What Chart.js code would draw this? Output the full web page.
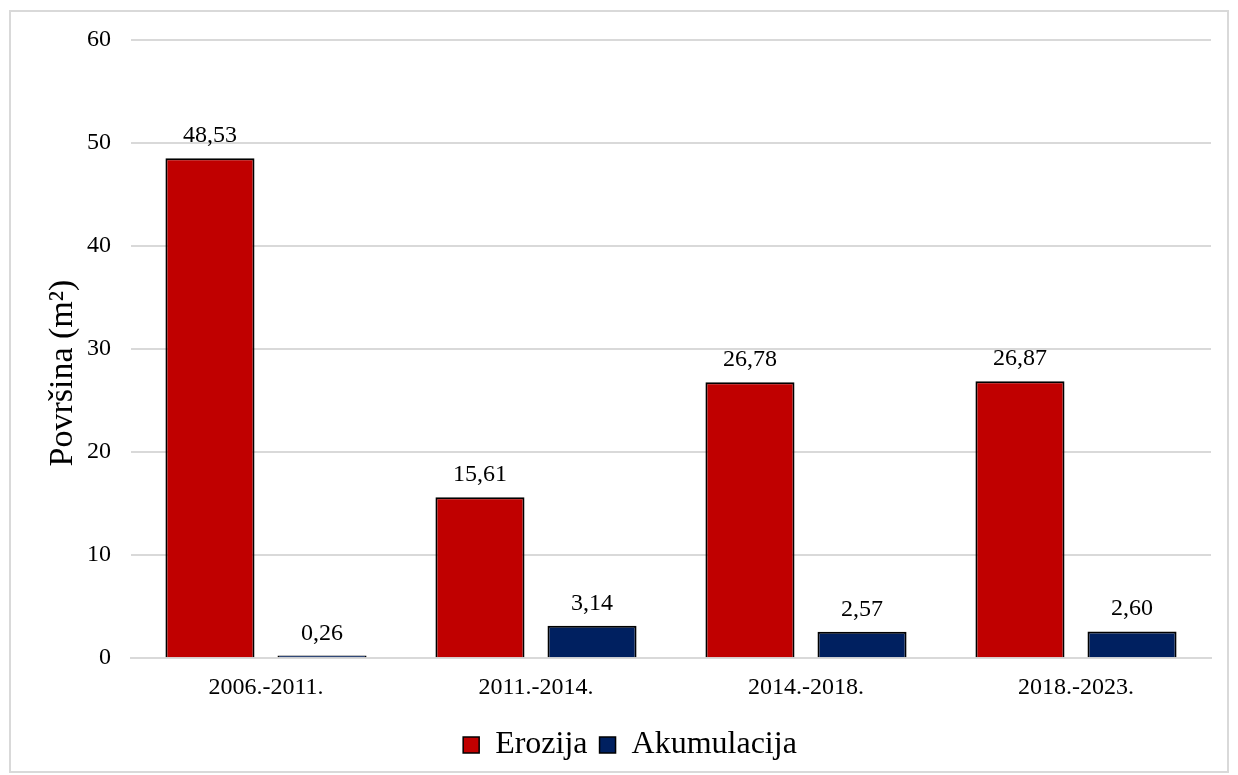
<!DOCTYPE html>
<html>
<head>
<meta charset="utf-8">
<script src="https://cdn.jsdelivr.net/npm/chart.js@4/dist/chart.umd.min.js"></script>
<style>
  body { margin: 0; background: #fff; }
  #box { position: absolute; left: 9px; top: 10px; width: 1220px; height: 763px; border: 2px solid #d9d9d9; box-sizing: border-box; }
  #chartWrap { position: absolute; left: 0; top: 0; width: 1216px; height: 759px; }
</style>
</head>
<body>
<div id="box"><div id="chartWrap"><canvas id="chart"></canvas></div></div>
<script>
const categories = ["2006.-2011.", "2011.-2014.", "2014.-2018.", "2018.-2023."];
const erozija = [48.53, 15.61, 26.78, 26.87];
const akumulacija = [0.26, 3.14, 2.57, 2.60];
const yTitle = "Površina (m²)";

const fontFamily = "'Liberation Serif', 'Times New Roman', serif";

// values above the bars (comma as decimal mark) and the y axis title
const extraText = {
    id: "extraText",
    afterDatasetsDraw(chart) {
        const ctx = chart.ctx;
        ctx.save();
        ctx.font = "24px " + fontFamily;
        ctx.fillStyle = "#000";
        ctx.textAlign = "center";
        ctx.textBaseline = "alphabetic";
        chart.data.datasets.forEach((ds, i) => {
            chart.getDatasetMeta(i).data.forEach((bar, j) => {
                ctx.fillText(ds.data[j].toFixed(2).replace(".", ","), bar.x, bar.y - 16);
            });
        });
        const area = chart.chartArea;
        ctx.translate(area.left - 68, (area.top + area.bottom) / 2 + 24);
        ctx.rotate(-Math.PI / 2);
        ctx.font = "34px " + fontFamily;
        ctx.textBaseline = "middle";
        ctx.fillText(yTitle, 0, 0);
        ctx.restore();
    }
};

const ctx = document.getElementById("chart").getContext("2d");
new Chart(ctx, {
    type: "bar",
    data: {
        labels: categories,
        datasets: [
            { label: "Erozija", data: erozija, backgroundColor: "#c00000", borderColor: "#000", borderWidth: 2 },
            { label: "Akumulacija", data: akumulacija, backgroundColor: "#002060", borderColor: "#000", borderWidth: 2 }
        ]
    },
    options: {
        responsive: true,
        maintainAspectRatio: false,
        animation: false,
        categoryPercentage: 0.83,
        barPercentage: 0.795,
        layout: { padding: { top: 28, right: 16, left: 38, bottom: 0 } },
        plugins: {
            legend: {
                position: "bottom",
                labels: {
                    font: { family: fontFamily, size: 32 },
                    color: "#000",
                    boxWidth: 16,
                    boxHeight: 16,
                    padding: 12,
                    generateLabels(chart) {
                        return chart.data.datasets.map((ds, i) => ({
                            text: ds.label,
                            fillStyle: ds.backgroundColor,
                            strokeStyle: "#000",
                            lineWidth: 1.5,
                            datasetIndex: i,
                            fontColor: "#000"
                        }));
                    }
                }
            },
            tooltip: { enabled: false }
        },
        scales: {
            x: {
                grid: { display: false, drawTicks: false },
                border: { color: "#d9d9d9", width: 2 },
                ticks: { font: { family: fontFamily, size: 24 }, color: "#000", padding: 15 }
            },
            y: {
                min: 0,
                max: 60,
                ticks: { stepSize: 10, font: { family: fontFamily, size: 24 }, color: "#000", padding: 20 },
                grid: { color: "#d9d9d9", lineWidth: 2, drawTicks: false },
                border: { display: false },
                afterFit(scale) {
                    scale.width = 82;
                    scale.paddingTop = 0;
                    scale.paddingBottom = 0;
                }
            }
        }
    },
    plugins: [extraText]
});
</script>
</body>
</html>
